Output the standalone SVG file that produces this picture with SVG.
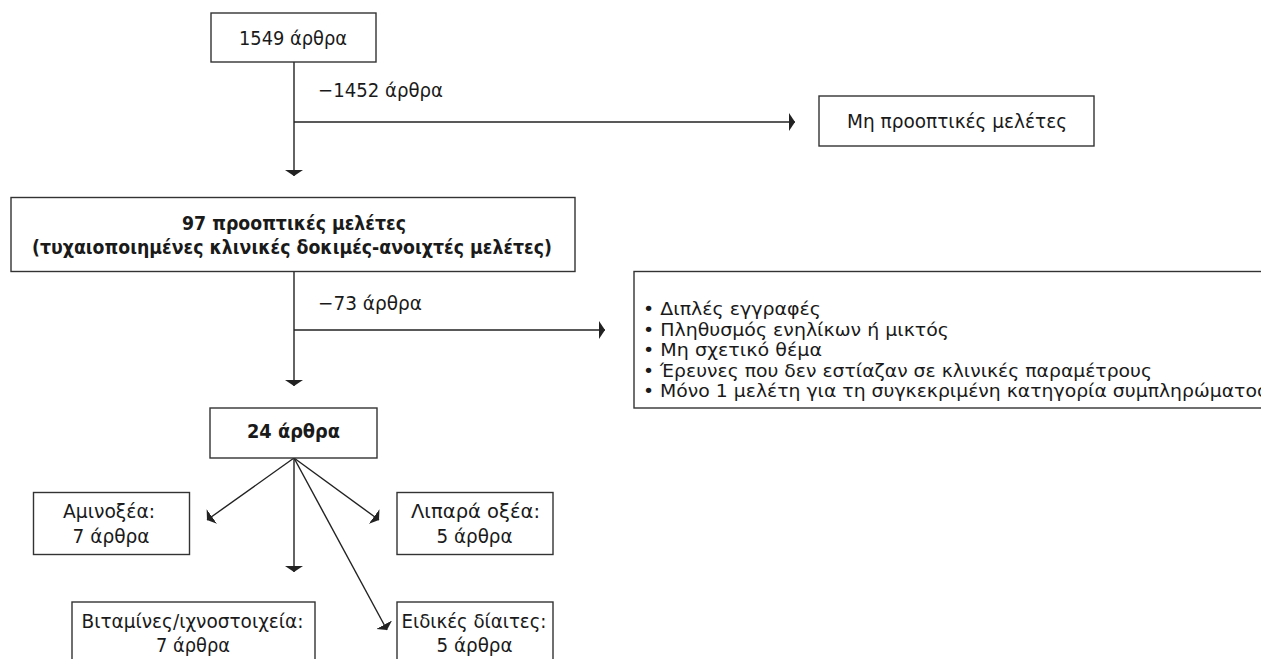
<svg xmlns="http://www.w3.org/2000/svg" width="1261" height="659" viewBox="0 0 1261 659">
  <defs>
    <style>
      .box { fill: #ffffff; stroke: #333333; stroke-width: 1.4; }
      .t { font-family: "DejaVu Sans", "Noto Sans", sans-serif; fill: #1a1a1a; font-size: 20px; }
      .c { text-anchor: middle; }
      .s { font-size: 17.6px; }
      .b { font-weight: bold; }
      .conn { stroke: #222222; stroke-width: 1.4; fill: none; marker-end: url(#ah); }
    </style>
    <marker id="ah" viewBox="0 -9 6 18" refX="6" refY="0" markerWidth="6" markerHeight="18" markerUnits="userSpaceOnUse" orient="auto">
      <path d="M0,-9 L6,0 L0,9 Z" fill="#222222"/>
    </marker>
  </defs>
  <rect width="1261" height="659" fill="#ffffff"/>

  <g id="connectors">
    <line class="conn" x1="294" y1="62" x2="294" y2="176"/>
    <line class="conn" x1="294" y1="122" x2="795" y2="122"/>
    <line class="conn" x1="294" y1="272" x2="294" y2="386"/>
    <line class="conn" x1="294" y1="330" x2="605" y2="330"/>
    <line class="conn" x1="294" y1="458" x2="207" y2="520"/>
    <line class="conn" x1="294" y1="458" x2="294" y2="572"/>
    <line class="conn" x1="294" y1="458" x2="379" y2="520"/>
    <line class="conn" x1="294" y1="458" x2="387" y2="630"/>
  </g>

  <g id="label-1452">
    <text class="t" x="318" y="97" textLength="125" lengthAdjust="spacingAndGlyphs">−1452 άρθρα</text>
  </g>
  <g id="label-73">
    <text class="t" x="318" y="310" textLength="104" lengthAdjust="spacingAndGlyphs">−73 άρθρα</text>
  </g>

  <g id="node-1549">
    <rect class="box" x="211" y="13" width="165" height="49"/>
    <text class="t c" x="293" y="45" textLength="108" lengthAdjust="spacingAndGlyphs">1549 άρθρα</text>
  </g>

  <g id="node-non-prospective">
    <rect class="box" x="819" y="96" width="275" height="50"/>
    <text class="t c" x="957" y="128" textLength="220" lengthAdjust="spacingAndGlyphs">Μη προοπτικές μελέτες</text>
  </g>

  <g id="node-97">
    <rect class="box" x="11" y="197.5" width="564" height="74"/>
    <text class="t c b" x="294" y="230" textLength="224" lengthAdjust="spacingAndGlyphs">97 προοπτικές μελέτες</text>
    <text class="t c b" x="292" y="254" textLength="520" lengthAdjust="spacingAndGlyphs">(τυχαιοποιημένες κλινικές δοκιμές-ανοιχτές μελέτες)</text>
  </g>

  <g id="node-exclusions">
    <rect class="box" x="634" y="271.5" width="700" height="136.5"/>
    <text class="t s" x="643" y="315" textLength="178" lengthAdjust="spacingAndGlyphs">• Διπλές εγγραφές</text>
    <text class="t s" x="643" y="335.5" textLength="306" lengthAdjust="spacingAndGlyphs">• Πληθυσμός ενηλίκων ή μικτός</text>
    <text class="t s" x="643" y="356" textLength="179" lengthAdjust="spacingAndGlyphs">• Μη σχετικό θέμα</text>
    <text class="t s" x="643" y="376.5" textLength="509" lengthAdjust="spacingAndGlyphs">• Έρευνες που δεν εστίαζαν σε κλινικές παραμέτρους</text>
    <text class="t s" x="643" y="397" textLength="625" lengthAdjust="spacingAndGlyphs">• Μόνο 1 μελέτη για τη συγκεκριμένη κατηγορία συμπληρώματος</text>
  </g>

  <g id="node-24">
    <rect class="box" x="210" y="408" width="167" height="50"/>
    <text class="t c b" x="293.5" y="438" textLength="93" lengthAdjust="spacingAndGlyphs">24 άρθρα</text>
  </g>

  <g id="node-amino">
    <rect class="box" x="33.5" y="492.5" width="156" height="62"/>
    <text class="t c" x="109" y="517.5" textLength="92" lengthAdjust="spacingAndGlyphs">Αμινοξέα:</text>
    <text class="t c" x="111" y="543" textLength="77" lengthAdjust="spacingAndGlyphs">7 άρθρα</text>
  </g>

  <g id="node-fatty">
    <rect class="box" x="397" y="492.5" width="156" height="62"/>
    <text class="t c" x="475.5" y="517.5" textLength="129" lengthAdjust="spacingAndGlyphs">Λιπαρά οξέα:</text>
    <text class="t c" x="474.5" y="543" textLength="76" lengthAdjust="spacingAndGlyphs">5 άρθρα</text>
  </g>

  <g id="node-vitamins">
    <rect class="box" x="72" y="602" width="243" height="80"/>
    <text class="t c" x="192.5" y="628" textLength="222" lengthAdjust="spacingAndGlyphs">Βιταμίνες/ιχνοστοιχεία:</text>
    <text class="t c" x="193" y="651.5" textLength="74" lengthAdjust="spacingAndGlyphs">7 άρθρα</text>
  </g>

  <g id="node-diets">
    <rect class="box" x="397" y="602" width="156" height="80"/>
    <text class="t c" x="474" y="628" textLength="145" lengthAdjust="spacingAndGlyphs">Ειδικές δίαιτες:</text>
    <text class="t c" x="474.5" y="651.5" textLength="76" lengthAdjust="spacingAndGlyphs">5 άρθρα</text>
  </g>
</svg>
